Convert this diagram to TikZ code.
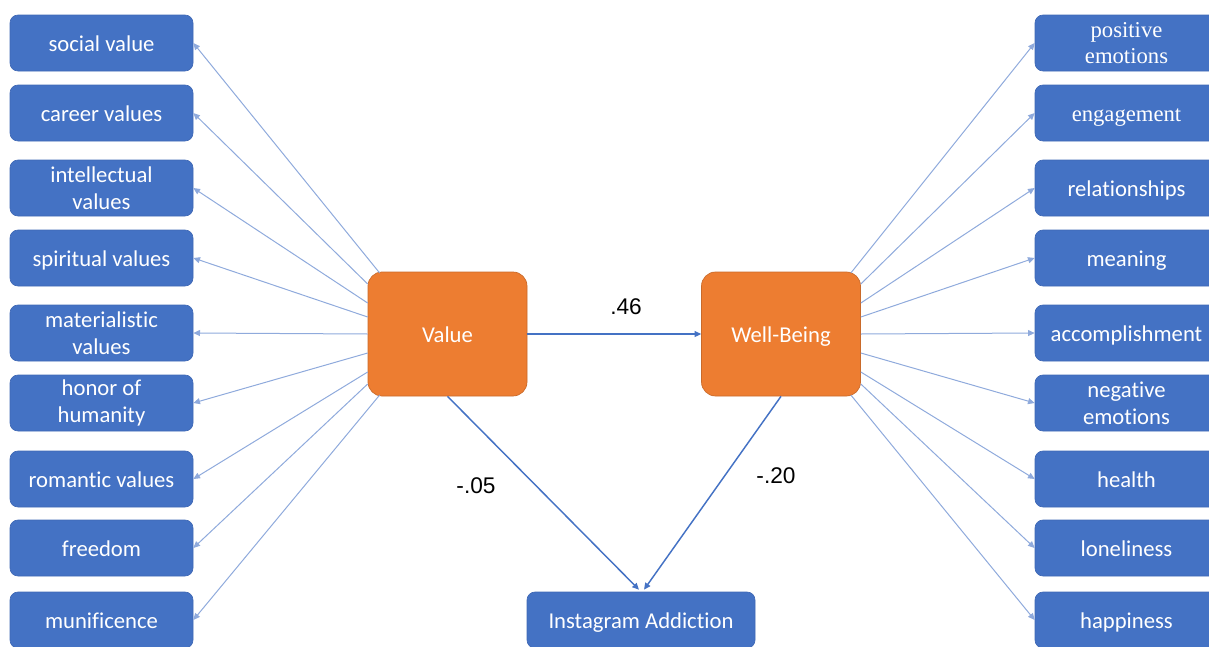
\documentclass[tikz,border=0pt]{standalone}
\usepackage{fontspec}
\setmainfont{Carlito}[Ligatures=NoCommon]
\newfontfamily\timesf{Liberation Serif}
\newfontfamily\arialf{Liberation Sans}
\usetikzlibrary{arrows.meta,calc}
\definecolor{boxblue}{HTML}{4472C4}
\definecolor{boxedge}{HTML}{3F68B5}
\definecolor{orng}{HTML}{ED7D31}
\definecolor{orngedge}{HTML}{C96A2A}
\definecolor{linkblue}{HTML}{8FAADC}
\begin{document}
\begin{tikzpicture}[x=0.75pt,y=-0.75pt,
  item/.style={rectangle,rounded corners=6pt,fill=boxblue,draw=boxedge,line width=0.5pt,
    minimum width=137.25pt,minimum height=42pt,text=white,align=center,inner sep=0pt,
    font=\fontsize{17}{20}\selectfont},
  one/.style={text height=12.5pt,text depth=0pt},
  serifitem/.style={item,font=\timesf\fontsize{17}{19.5}\selectfont},
  latent/.style={rectangle,rounded corners=10.5pt,fill=orng,draw=orngedge,line width=0.5pt,
    minimum width=119.25pt,minimum height=93pt,text=white,inner sep=0pt,
    font=\fontsize{17}{20}\selectfont,one},
  link/.style={draw=linkblue,line width=0.75pt,-{Triangle[length=5pt,width=4.5pt]}},
  mainlink/.style={draw=boxblue,line width=1.1pt,-{Triangle[length=5pt,width=4.5pt]}},
  coef/.style={font=\arialf\fontsize{17}{20}\selectfont,inner sep=0pt}
]
\useasboundingbox (0,0) rectangle (1209,646);

% left indicators
\node[item,one] (l1) at (101.5,43) {social value};
\node[item,one] (l2) at (101.5,113) {career values};
\node[item] (l3) at (101.5,188) {intellectual\\values};
\node[item,one] (l4) at (101.5,258) {spiritual values};
\node[item] (l5) at (101.5,333) {materialistic\\values};
\node[item] (l6) at (101.5,403) {honor of\\humanity};
\node[item,one] (l7) at (101.5,479) {romantic values};
\node[item,one] (l8) at (101.5,548) {freedom};
\node[item,one] (l9) at (101.5,620) {munificence};

% right indicators
\node[serifitem] (r1) at (1126.5,43) {positive\\emotions};
\node[serifitem,one] (r2) at (1126.5,113) {engagement};
\node[item,one] (r3) at (1126.5,188) {relationships};
\node[item,one] (r4) at (1126.5,258) {meaning};
\node[item,one] (r5) at (1126.5,333) {accomplishment};
\node[item] (r6) at (1126.5,403) {negative\\emotions};
\node[item,one] (r7) at (1126.5,479) {health};
\node[item,one] (r8) at (1126.5,548) {loneliness};
\node[item,one] (r9) at (1126.5,620) {happiness};

% latent variables
\node[latent] (val) at (447.5,334) {Value};
\node[latent] (wb) at (781,334) {Well-Being};
\node[item,one,minimum width=171pt] (ia) at (641,620) {Instagram Addiction};

% left links
\draw[link] ($(val.west)+(12,-61)$) -- (l1.east);
\draw[link] ($(val.west)+(0,-50)$) -- (l2.east);
\draw[link] ($(val.west)+(0,-31)$) -- (l3.east);
\draw[link] ($(val.west)+(0,-17)$) -- (l4.east);
\draw[link] (val.west) -- (l5.east);
\draw[link] ($(val.west)+(0,19)$) -- (l6.east);
\draw[link] ($(val.west)+(0,38)$) -- (l7.east);
\draw[link] ($(val.west)+(0,50)$) -- (l8.east);
\draw[link] ($(val.west)+(12,61)$) -- (l9.east);

% right links
\draw[link] ($(wb.east)+(-10,-61)$) -- (r1.west);
\draw[link] ($(wb.east)+(0,-50)$) -- (r2.west);
\draw[link] ($(wb.east)+(0,-31)$) -- (r3.west);
\draw[link] ($(wb.east)+(0,-17)$) -- (r4.west);
\draw[link] (wb.east) -- (r5.west);
\draw[link] ($(wb.east)+(0,19)$) -- (r6.west);
\draw[link] ($(wb.east)+(0,38)$) -- (r7.west);
\draw[link] ($(wb.east)+(0,50)$) -- (r8.west);
\draw[link] ($(wb.east)+(-10,61)$) -- (r9.west);

% structural paths
\draw[mainlink] (val.east) -- (wb.west);
\draw[mainlink] (val.south) -- ($(ia.north)+(-2,-2)$);
\draw[mainlink] (wb.south) -- ($(ia.north)+(3,-2)$);

\node[coef] (c1) at (626,307) {.46};
\node[coef] (c2) at (476,486) {-.05};
\node[coef] (c3) at (776,476) {-.20};
\end{tikzpicture}
\end{document}
